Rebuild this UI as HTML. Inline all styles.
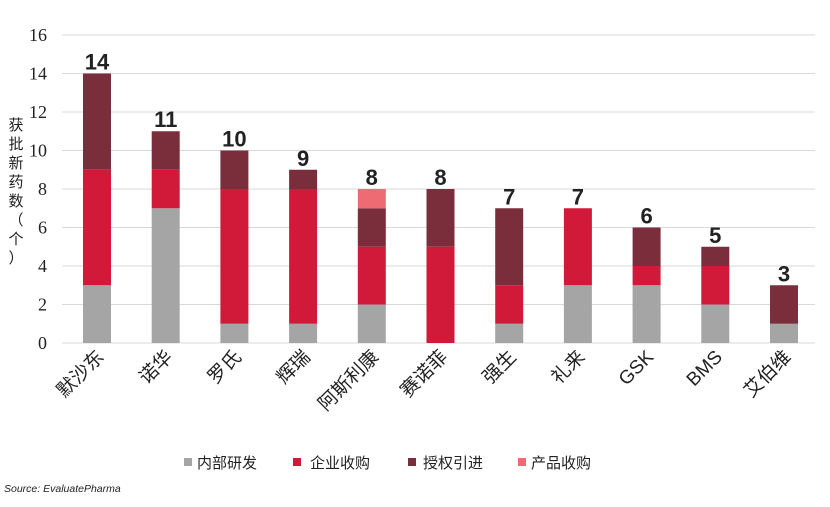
<!DOCTYPE html><html><head><meta charset="utf-8"><style>body{margin:0;background:#fff}</style></head><body>
<svg width="830" height="502" xmlns="http://www.w3.org/2000/svg" font-family="'Liberation Sans','Noto Sans CJK SC',sans-serif">
<g stroke="#d9d9d9" stroke-width="1">
<line x1="62" x2="815" y1="343" y2="343"/><line x1="62" x2="815" y1="304.5" y2="304.5"/><line x1="62" x2="815" y1="266" y2="266"/><line x1="62" x2="815" y1="227.5" y2="227.5"/><line x1="62" x2="815" y1="189" y2="189"/><line x1="62" x2="815" y1="150.5" y2="150.5"/><line x1="62" x2="815" y1="112" y2="112"/><line x1="62" x2="815" y1="73.5" y2="73.5"/><line x1="62" x2="815" y1="35" y2="35"/>
</g>
<g font-family="'Liberation Serif',serif" font-size="18" fill="#222" text-anchor="end">
<text x="47" y="349">0</text><text x="47" y="310.5">2</text><text x="47" y="272">4</text><text x="47" y="233.5">6</text><text x="47" y="195">8</text><text x="47" y="156.5">10</text><text x="47" y="118">12</text><text x="47" y="79.5">14</text><text x="47" y="41">16</text>
</g>
<!-- gray -->
<g fill="#a5a5a5">
<rect x="83" y="285.25" width="28" height="57.75"/>
<rect x="151.7" y="208.25" width="28" height="134.75"/>
<rect x="220.4" y="323.75" width="28" height="19.25"/>
<rect x="289.1" y="323.75" width="28" height="19.25"/>
<rect x="357.8" y="304.5" width="28" height="38.5"/>
<rect x="495.2" y="323.75" width="28" height="19.25"/>
<rect x="563.9" y="285.25" width="28" height="57.75"/>
<rect x="632.6" y="285.25" width="28" height="57.75"/>
<rect x="701.3" y="304.5" width="28" height="38.5"/>
<rect x="770" y="323.75" width="28" height="19.25"/>
</g>
<g fill="#d11a3a">
<rect x="83" y="169.75" width="28" height="115.5"/>
<rect x="151.7" y="169.75" width="28" height="38.5"/>
<rect x="220.4" y="189" width="28" height="134.75"/>
<rect x="289.1" y="189" width="28" height="134.75"/>
<rect x="357.8" y="246.75" width="28" height="57.75"/>
<rect x="426.5" y="246.75" width="28" height="96.25"/>
<rect x="495.2" y="285.25" width="28" height="38.5"/>
<rect x="563.9" y="208.25" width="28" height="77"/>
<rect x="632.6" y="266" width="28" height="19.25"/>
<rect x="701.3" y="266" width="28" height="38.5"/>
</g>
<g fill="#7a2e3c">
<rect x="83" y="73.5" width="28" height="96.25"/>
<rect x="151.7" y="131.25" width="28" height="38.5"/>
<rect x="220.4" y="150.5" width="28" height="38.5"/>
<rect x="289.1" y="169.75" width="28" height="19.25"/>
<rect x="357.8" y="208.25" width="28" height="38.5"/>
<rect x="426.5" y="189" width="28" height="57.75"/>
<rect x="495.2" y="208.25" width="28" height="77"/>
<rect x="632.6" y="227.5" width="28" height="38.5"/>
<rect x="701.3" y="246.75" width="28" height="19.25"/>
<rect x="770" y="285.25" width="28" height="38.5"/>
</g>
<rect x="357.8" y="189" width="28" height="19.25" fill="#ee6b73"/>
<g font-weight="bold" font-size="22" fill="#222" text-anchor="middle">
<text x="97" y="69.5">14</text><text x="165.7" y="127">11</text><text x="234.4" y="146.5">10</text><text x="303.1" y="165.75">9</text><text x="371.8" y="185">8</text><text x="440.5" y="185">8</text><text x="509.2" y="204.25">7</text><text x="577.9" y="204.25">7</text><text x="646.6" y="223.5">6</text><text x="715.3" y="242.75">5</text><text x="784" y="281.25">3</text>
</g>
<g font-size="19" fill="#222" text-anchor="end">
<text transform="translate(105,358) rotate(-45)">默沙东</text>
<text transform="translate(173.7,358) rotate(-45)">诺华</text>
<text transform="translate(242.4,358) rotate(-45)">罗氏</text>
<text transform="translate(311.1,358) rotate(-45)">辉瑞</text>
<text transform="translate(379.8,358) rotate(-45)">阿斯利康</text>
<text transform="translate(448.5,358) rotate(-45)">赛诺菲</text>
<text transform="translate(517.2,358) rotate(-45)">强生</text>
<text transform="translate(585.9,358) rotate(-45)">礼来</text>
<text transform="translate(654.6,358) rotate(-45)">GSK</text>
<text transform="translate(723.3,358) rotate(-45)">BMS</text>
<text transform="translate(792,358) rotate(-45)">艾伯维</text>
</g>
<g font-size="15" fill="#222" text-anchor="middle">
<text x="16" y="130">获</text><text x="16" y="149">批</text><text x="16" y="168">新</text><text x="16" y="187">药</text><text x="16" y="206">数</text><text x="16" y="225">（</text><text x="16" y="244">个</text><text x="16" y="263">）</text>
</g>
<rect x="184" y="458" width="8" height="8" fill="#a5a5a5"/><text x="197" y="468" font-size="15" fill="#222">内部研发</text>
<rect x="293" y="458" width="8" height="8" fill="#d11a3a"/><text x="310" y="468" font-size="15" fill="#222">企业收购</text>
<rect x="408" y="458" width="8" height="8" fill="#7a2e3c"/><text x="423" y="468" font-size="15" fill="#222">授权引进</text>
<rect x="518" y="458" width="8" height="8" fill="#ee6b73"/><text x="531" y="468" font-size="15" fill="#222">产品收购</text>
<text x="4" y="492" font-size="10.5" font-style="italic" fill="#222">Source: EvaluatePharma</text>
</svg></body></html>
